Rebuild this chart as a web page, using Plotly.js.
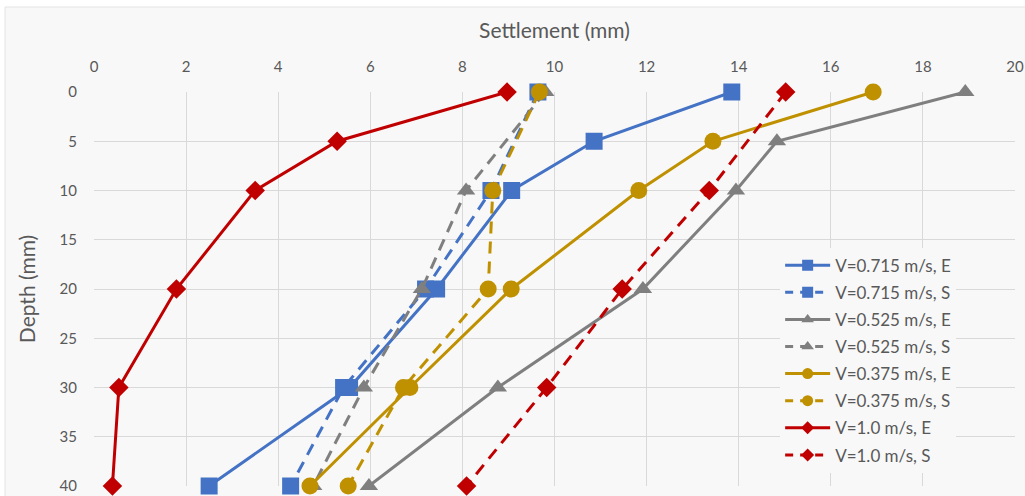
<!DOCTYPE html>
<html>
<head>
<meta charset="utf-8">
<script src="https://cdn.plot.ly/plotly-3.0.1.min.js"></script>
<style>html,body{margin:0;padding:0;background:#fff;}#chart{width:1025px;height:496px;}</style>
</head>
<body>
<div id="chart"></div>
<script>
// Depth levels (mm)
const depthE = [0, 5, 10, 20, 30, 40];
const depthS = [0, 10, 20, 30, 40];

// Settlement values (mm)
const blueE = [13.85, 10.86, 9.07, 7.44, 5.55, 2.50];
const blueS = [9.64, 8.62, 7.20, 5.42, 4.27];
const grayE = [18.92, 14.83, 13.94, 11.92, 8.77, 5.97];
const grayS = [9.80, 8.08, 7.12, 5.86, 4.76];
const goldE = [16.92, 13.44, 11.83, 9.06, 6.86, 4.69];
const goldS = [9.67, 8.66, 8.56, 6.72, 5.52];
const redE  = [8.97, 5.28, 3.50, 1.79, 0.54, 0.40];
const redS  = [15.02, 13.36, 11.47, 9.83, 8.09];

const seriesNames = [
  "V=0.715 m/s, E", "V=0.715 m/s, S",
  "V=0.525 m/s, E", "V=0.525 m/s, S",
  "V=0.375 m/s, E", "V=0.375 m/s, S",
  "V=1.0 m/s, E", "V=1.0 m/s, S"
];

const BLUE = "#4472C4", GRAY = "#7F7F7F", GOLD = "#BF9000", RED = "#C00000";
const FONT = "Lato, 'Open Sans', sans-serif";
const TXT = "#595959";

const styles = [
  {c: BLUE, d: false, s: "square", size: 17, ls: 11},
  {c: BLUE, d: true,  s: "square", size: 17, ls: 11},
  {c: GRAY, d: false, s: "triangle-up", size: 16, ls: 11},
  {c: GRAY, d: true,  s: "triangle-up", size: 16, ls: 11},
  {c: GOLD, d: false, s: "circle", size: 17, ls: 11},
  {c: GOLD, d: true,  s: "circle", size: 17, ls: 11},
  {c: RED,  d: false, s: "diamond", size: 15, ls: 10},
  {c: RED,  d: true,  s: "diamond", size: 15, ls: 10}
];
const xs = [blueE, blueS, grayE, grayS, goldE, goldS, redE, redS];
const ys = [depthE, depthS, depthE, depthS, depthE, depthS, depthE, depthS];

const data = [];
// plotted series
for (let i = 0; i < 8; i++) {
  const st = styles[i];
  data.push({
    type: "scatter", mode: "lines+markers",
    x: xs[i], y: ys[i], name: seriesNames[i],
    showlegend: false, cliponaxis: false,
    line: {color: st.c, width: 3, dash: st.d ? "12px,8px" : "solid"},
    marker: {color: st.c, symbol: st.s, size: st.size}
  });
}
// legend entries (smaller markers, as in the reference legend)
for (let i = 0; i < 8; i++) {
  const st = styles[i];
  data.push({
    type: "scatter", mode: "lines+markers",
    x: [null], y: [null], name: seriesNames[i],
    showlegend: true, legendgroup: seriesNames[i],
    line: {color: st.c, width: 3, dash: st.d ? "8px,7px" : "solid"},
    marker: {color: st.c, symbol: st.s, size: st.ls}
  });
}

const layout = {
  width: 1025, height: 496,
  margin: {l: 94, r: 10, t: 92, b: 10, autoexpand: false},
  paper_bgcolor: "#ffffff",
  plot_bgcolor: "rgba(0,0,0,0)",
  font: {family: FONT, color: TXT, size: 15},
  showlegend: true,
  legend: {
    x: 0.745, xanchor: "left", y: 0.605, yanchor: "top",
    bgcolor: "#f8f8f8", borderwidth: 0,
    font: {family: FONT, size: 17, color: TXT},
    tracegroupgap: 2, itemwidth: 45
  },
  xaxis: {
    side: "top", range: [0, 20], dtick: 2, tick0: 0,
    showgrid: true, gridcolor: "#d9d9d9", gridwidth: 1,
    zeroline: false, showline: false, ticks: "",
    ticklabelstandoff: 16,
    tickfont: {family: FONT, size: 15, color: TXT},
    title: {text: "Settlement (mm)", font: {family: FONT, size: 21, color: TXT}, standoff: 12}
  },
  yaxis: {
    range: [40, 0], dtick: 5, tick0: 0,
    showgrid: true, gridcolor: "#d9d9d9", gridwidth: 1,
    zeroline: false, showline: false, ticks: "",
    ticklabelstandoff: 16,
    tickfont: {family: FONT, size: 15, color: TXT},
    title: {text: "Depth (mm)", font: {family: FONT, size: 21, color: TXT}, standoff: 18}
  },
  shapes: [{
    type: "rect", xref: "paper", yref: "paper", layer: "below",
    x0: -0.0966, x1: 1.02, y0: -0.03, y1: 1.2157,
    fillcolor: "#f8f8f8", line: {color: "#e3e3e3", width: 1}
  }]
};

Plotly.newPlot("chart", data, layout, {displayModeBar: false, staticPlot: true});
</script>
</body>
</html>
